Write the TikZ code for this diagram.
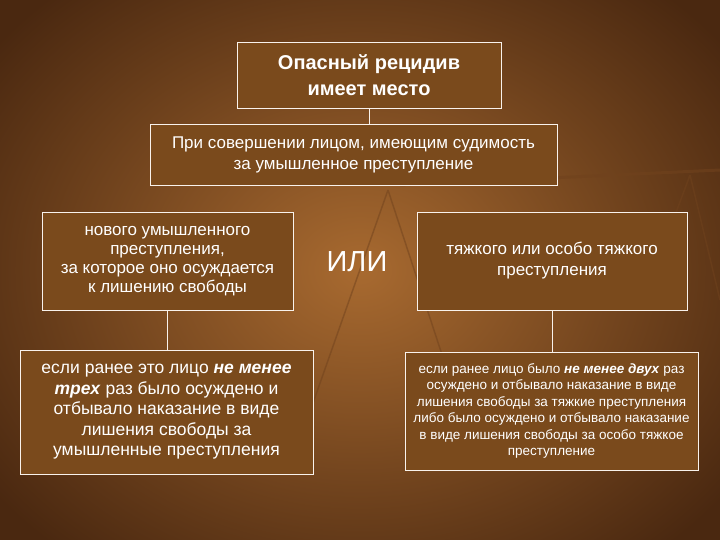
\documentclass[tikz,border=0pt]{standalone}
\usepackage{fontspec}
\setmainfont{Liberation Sans}
\begin{document}
\begin{tikzpicture}[x=1pt,y=-1pt,
  box/.style={draw=white!90!brown,line width=0.6pt,fill=bx,text=white,align=center,inner sep=2pt},
  conn/.style={draw=white!90!brown,line width=0.6pt}]
\definecolor{bx}{HTML}{7A4A1C}
\definecolor{bgin}{HTML}{A86A30}
\definecolor{bgout}{HTML}{4A2810}
\useasboundingbox (0,0) rectangle (720,540);
\shade[inner color=bgin,outer color=bgout] (-100,-100) rectangle (820,640);
% faint scales
\draw[bgout!60!bgin,line width=3pt,opacity=0.6] (400,185) -- (720,170);
\draw[bgout!60!bgin,line width=1.5pt,opacity=0.5] (388,190) -- (300,440) (388,190) -- (470,440);
\draw[bgout!60!bgin,line width=1.5pt,opacity=0.5] (690,175) -- (610,390) (690,175) -- (720,300);
\node[box,minimum width=264,minimum height=66,font=\bfseries\fontsize{20}{26}\selectfont] (a) at (369,75) {Опасный рецидив\\имеет место};
\node[box,minimum width=407,minimum height=61,font=\fontsize{17}{21}\selectfont] (b) at (353.5,154.5) {При совершении лицом, имеющим судимость\\за умышленное преступление};
\node[box,minimum width=251,minimum height=98,font=\fontsize{17}{19}\selectfont] (c) at (167.5,261) {нового умышленного\\преступления,\\за которое оно осуждается\\к лишению свободы};
\node[text=white,font=\fontsize{29}{32}\selectfont] (or) at (357,262) {ИЛИ};
\node[box,minimum width=270,minimum height=98,font=\fontsize{17}{21}\selectfont] (d) at (552,261) {тяжкого или особо тяжкого\\преступления};
\node[box,minimum width=293,minimum height=124,font=\fontsize{17.5}{20.5}\selectfont] (e) at (166.5,412) {если ранее это лицо \textbf{\textit{не менее}}\\\textbf{\textit{трех}}  раз было осуждено и\\отбывало наказание в виде\\лишения свободы за\\умышленные преступления};
\node[box,minimum width=293,minimum height=118,font=\fontsize{13.5}{16.5}\selectfont] (f) at (551.5,411) {если ранее лицо было \textbf{\textit{не менее двух}} раз\\осуждено и отбывало наказание в виде\\лишения свободы за тяжкие преступления\\либо было осуждено и отбывало наказание\\в виде лишения свободы за особо тяжкое\\преступление};
\draw[conn] (a.south) -- (a.south |- b.north);
\draw[conn] (c.south) -- (c.south |- e.north);
\draw[conn] (d.south) -- (d.south |- f.north);
\end{tikzpicture}
\end{document}
